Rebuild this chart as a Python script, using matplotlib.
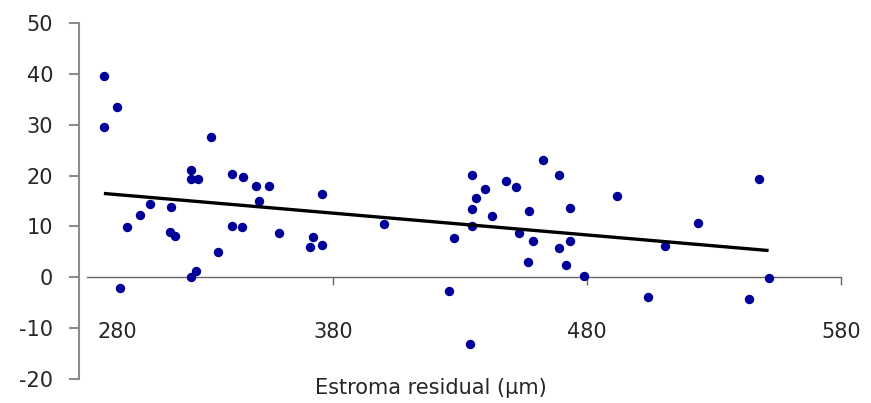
#!/usr/bin/python
import numpy as np
import matplotlib
matplotlib.use('Agg')
import matplotlib.pyplot as plt
import matplotlib.transforms as mtransforms

# residual stroma thickness (um) vs. value
estroma = [289.8, 294.8, 289.8, 331.9, 324.1, 324.1, 327.0, 308.0, 316.2, 304.1,
           298.9, 315.8, 317.8, 334.7, 325.9, 324.1, 296.0, 340.1, 344.7, 349.7,
           354.9, 375.9, 350.9, 340.1, 344.3, 358.9, 372.0, 370.9, 375.9, 400.2,
           434.7, 440.1, 436.2, 434.6, 434.6, 427.8, 442.7, 448.0, 452.0, 462.9,
           469.1, 457.2, 473.2, 453.3, 458.9, 469.2, 473.2, 457.0, 471.9, 478.8,
           425.9, 433.9, 491.8, 547.8, 523.8, 510.7, 504.1, 543.8, 551.6]
valores = [39.6, 33.5, 29.6, 27.6, 21.1, 19.3, 19.4, 14.4, 13.9, 12.2,
           9.9, 8.9, 8.1, 4.9, 1.3, 0.0, -2.2, 20.4, 19.8, 18.0,
           18.0, 16.3, 15.0, 10.1, 9.8, 8.8, 7.9, 5.9, 6.4, 10.4,
           20.1, 17.3, 15.6, 13.4, 10.1, 7.7, 12.0, 18.9, 17.7, 23.1,
           20.2, 13.0, 13.6, 8.7, 7.1, 5.7, 7.1, 3.0, 2.5, 0.3,
           -2.7, -13.1, 15.9, 19.3, 10.6, 6.2, -3.9, -4.3, -0.2]

xticks = [280, 380, 480, 580]
yticks = [-20, -10, 0, 10, 20, 30, 40, 50]
xlabel = u'Estroma residual (\u00b5m)'

txtcol = '#262626'
axcol = '#8c8c8c'

fig = plt.figure(figsize=(8.71, 4.03), dpi=100)
ax = fig.add_axes([0.0907, 0.0596, 0.8745, 0.8833])

ax.scatter(estroma, valores, s=46, color='#000099', linewidths=0, zorder=3)

# linear trend line over the sample range (as excel does it)
x = np.array(estroma)
y = np.array(valores)
a, b = np.polyfit(x, y, 1)
xx = np.array([x.min(), x.max()])
ax.plot(xx, a * xx + b, color='black', lw=2.4, solid_capstyle='butt', zorder=4)

ax.set_xlim(280, 580)
ax.set_ylim(-20, 50)

for s in ['top', 'right']:
    ax.spines[s].set_visible(False)
ax.spines['left'].set_color(axcol)
ax.spines['left'].set_linewidth(1.5)
# the x axis crosses at zero and starts a little right of the y axis
ax.spines['bottom'].set_position(('data', 0))
ax.spines['bottom'].set_bounds(283, 580)
ax.spines['bottom'].set_color('#666666')
ax.spines['bottom'].set_linewidth(1.0)

ax.set_yticks(yticks)
ax.set_yticklabels([str(t) for t in yticks])
ax.set_xticks(xticks)
ax.set_xticklabels([str(t) for t in xticks])

ax.tick_params(axis='y', direction='out', length=7.5, width=1.5, color=axcol,
               pad=11, labelsize=15, labelcolor=txtcol)
ax.tick_params(axis='x', direction='out', length=6, width=1.0, color='#666666',
               pad=26, labelsize=15, labelcolor=txtcol)
ax.xaxis.get_major_ticks()[0].tick1line.set_visible(False)

# first x label sits to the right of the y axis
lab0 = ax.get_xticklabels()[0]
lab0.set_transform(lab0.get_transform() +
                   mtransforms.ScaledTranslation(0.38, 0, fig.dpi_scale_trans))

fig.text(431 / 871.0, 1 - 388 / 403.0, xlabel, ha='center', va='center',
         fontsize=15, color=txtcol)

fig.savefig('out.png', dpi=100)
